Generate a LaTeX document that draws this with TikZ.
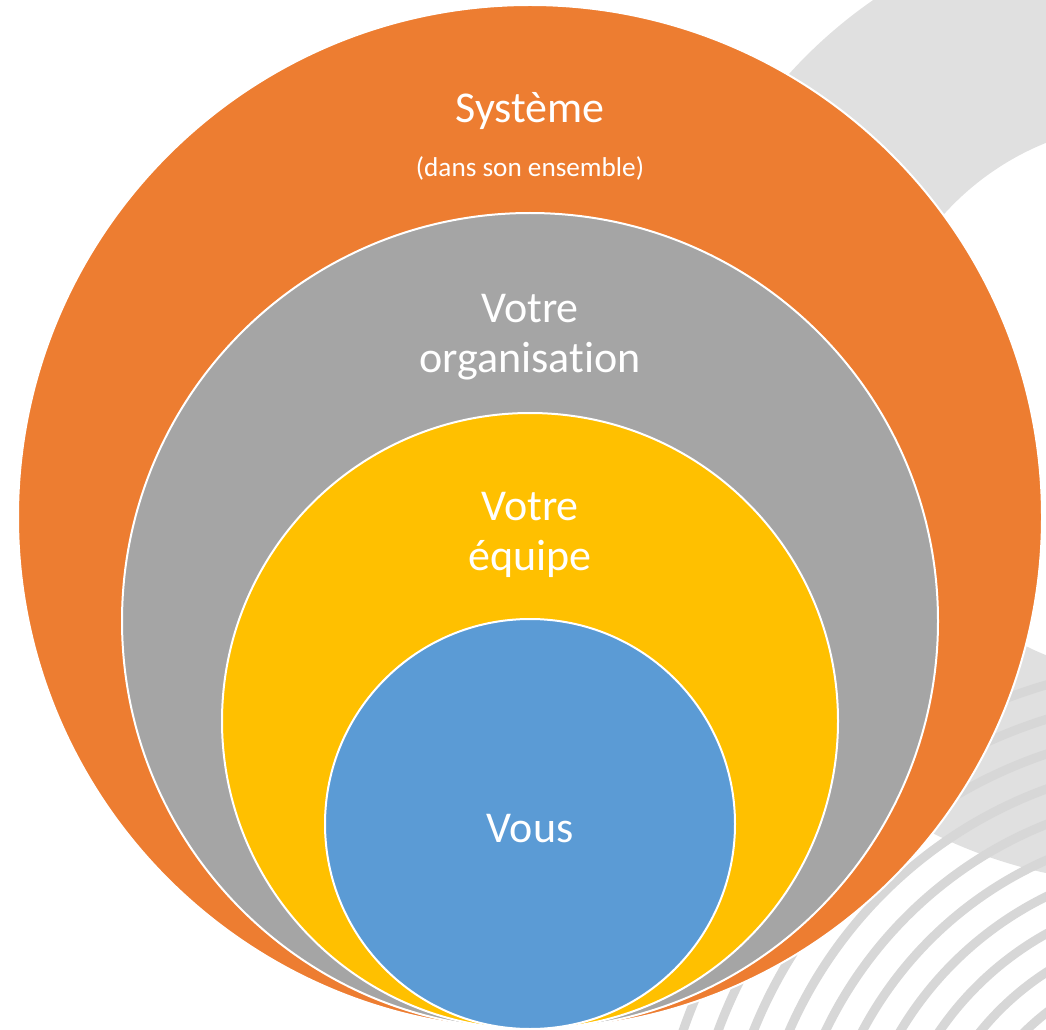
\documentclass[tikz,border=0pt]{standalone}
\usepackage{fontspec}
\setmainfont{Carlito}[RawFeature={-liga;-clig;-calt;-dlig}]
\definecolor{sysorange}{RGB}{237,125,49}
\definecolor{orggray}{RGB}{165,165,165}
\definecolor{teamyellow}{RGB}{255,192,0}
\definecolor{youblue}{RGB}{91,155,213}
\definecolor{bandgray}{RGB}{224,224,224}
\definecolor{arcgray}{RGB}{215,215,215}
\begin{document}
\begin{tikzpicture}[x=0.75pt,y=0.75pt,yscale=-1,xscale=1,
  disc/.style={draw=white,line width=1.5pt},
  bigtxt/.style={text=white,font=\fontsize{33}{40}\selectfont,anchor=base,inner sep=0pt},
  smalltxt/.style={text=white,font=\fontsize{20.4}{24}\selectfont,anchor=base,inner sep=0pt}]
\useasboundingbox (0,0) rectangle (1046,1030);

%Background decoration
\begin{scope}
\clip (0,0) rectangle (1046,1030);
%Shape: Ring [id:band]
\fill [color=bandgray, even odd rule] (1149,399) circle (485) circle (276);
%Curve Lines [id:arcs]
\foreach \r in {250,283,...,547}
  \draw [color=arcgray, line width=6.75pt] (1200,1210) circle (\r);
\end{scope}

%Shape: Circle [id:systeme]
\draw [disc, fill=sysorange] (530,517) circle (512);
%Shape: Circle [id:organisation]
\draw [disc, fill=orggray] (530,621) circle (408);
%Shape: Circle [id:equipe]
\draw [disc, fill=teamyellow] (530,721) circle (308);
%Shape: Circle [id:vous]
\draw [disc, fill=youblue] (530,824) circle (205);

% Text Node
\node [bigtxt] (sys) at (530,123) {Système};
% Text Node
\node [smalltxt] (sysnote) at (530,177) {(dans son ensemble)};
% Text Node
\node [bigtxt] (org1) at (530,323) {Votre};
% Text Node
\node [bigtxt] (org2) at (530,373) {organisation};
% Text Node
\node [bigtxt] (team1) at (530,520) {Votre};
% Text Node
\node [bigtxt] (team2) at (530,570) {équipe};
% Text Node
\node [bigtxt] (you) at (530,842) {Vous};

\end{tikzpicture}
\end{document}
